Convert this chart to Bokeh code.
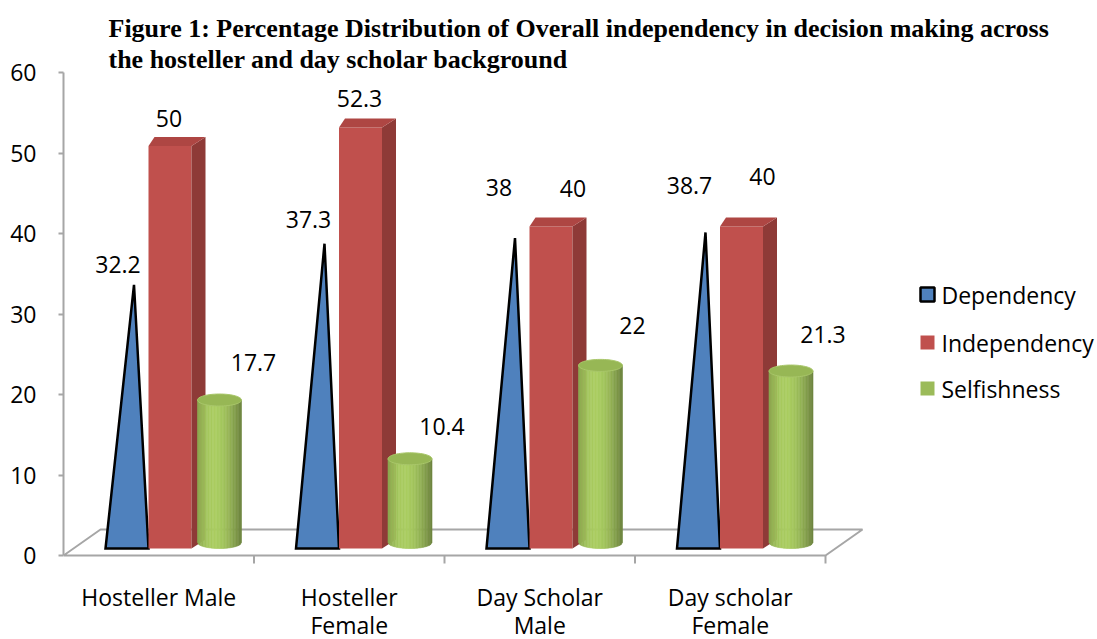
import numpy as np
from bokeh.plotting import figure
from bokeh.models import FixedTicker, Range1d
from bokeh.embed import file_html
from bokeh.resources import INLINE
from bokeh.core.properties import value

# ---------------- data ----------------
categories = ["Hosteller Male", "Hosteller\nFemale", "Day Scholar\nMale", "Day scholar\nFemale"]
series_names = ["Dependency", "Independency", "Selfishness"]
dependency = [32.2, 37.3, 38, 38.7]
independency = [50, 52.3, 40, 40]
selfishness = [17.7, 10.4, 22, 21.3]
y_ticks = [0, 10, 20, 30, 40, 50, 60]
title_lines = ["Figure 1: Percentage Distribution of Overall independency in decision making across",
               "the hosteller and day scholar background"]

# ---------------- styling / layout ----------------
BLUE, RED, GREEN = "#4F81BD", "#C0504D", "#9BBB59"
RED_SIDE, RED_TOP = "#8E3A37", "#AE4643"
GREEN_TOP = "#97B755"
GRID_GRAY = "#A6A6A6"
FONT = "Open Sans"
FS = "23px"

X0, SX = 63.0, 190.5      # page px of category 0, px per category
Y0, SY = 555.0, 8.05      # page px of value 0, px per value unit
PAGE_OFF = 0
W, H = 1097, 639
BORDER_L = int(X0 - PAGE_OFF)

def hx(px):  # horizontal px -> data units
    return px / SX

def hy(px):  # vertical px -> data units
    return px / SY

def px2x(px):
    return (px - X0) / SX

def py2y(py):
    return (Y0 - py) / SY

x_end = px2x(PAGE_OFF + W)
y_top = py2y(PAGE_OFF)
y_bot = py2y(PAGE_OFF + H)

p = figure(width=W, height=H, output_backend="svg", toolbar_location=None,
           x_range=Range1d(0, x_end), y_range=Range1d(y_bot, y_top),
           x_axis_location=None, min_border_left=BORDER_L, min_border_right=0,
           min_border_top=0, min_border_bottom=0)
p.outline_line_color = None
p.grid.visible = False
p.background_fill_color = "white"
p.border_fill_color = "white"

ax = p.yaxis[0]
ax.ticker = FixedTicker(ticks=y_ticks)
ax.bounds = (0, 60)
ax.axis_line_color = GRID_GRAY
ax.axis_line_width = 2
ax.major_tick_line_color = GRID_GRAY
ax.major_tick_line_width = 2
ax.major_tick_out = 5
ax.major_tick_in = 0
ax.minor_tick_line_color = None
ax.major_label_text_font = FONT
ax.major_label_text_font_size = FS
ax.major_label_text_color = "black"
ax.major_label_standoff = 22

n_cat = len(categories)

# floor (3D base plane)
depth_x, depth_y = hx(37), hy(26)
p.line([0, n_cat, n_cat + depth_x, depth_x, 0], [0, 0, depth_y, depth_y, 0],
       line_color=GRID_GRAY, line_width=2)
# category tick marks
p.segment(x0=list(range(1, n_cat + 1)), y0=[0] * n_cat,
          x1=list(range(1, n_cat + 1)), y1=[-hy(8)] * n_cat,
          line_color=GRID_GRAY, line_width=2)

# geometry of the 3D shapes (px within a category)
PYR_L, PYR_R = 42, 85
RED_L, RED_R = 85, 128
CYL_L, CYL_R = 134, 178
BASE = hy(7)
DXR, DXL, DYB = hx(14), hx(6), hy(9)
ELL = hy(6)

def shade(rgb, f):
    return "#%02x%02x%02x" % tuple(int(max(0, min(255, c * f))) for c in rgb)

for i in range(n_cat):
    # --- pyramid (Dependency) ---
    l, r = i + hx(PYR_L), i + hx(PYR_R)
    apex_x = (l + r) / 2 + DXR / 2
    apex_y = BASE + dependency[i] + DYB / 2
    p.patch([l, r, apex_x], [BASE, BASE, apex_y], fill_color=BLUE,
            line_color="black", line_width=2.5, line_join="miter")
    p.text(x=[apex_x + hx(-16)], y=[apex_y + hy([20, 24, 51, 47][i])],
           text=[f"{dependency[i]:g}"], text_font=value(FONT), text_font_size=FS,
           text_align="center", text_baseline="middle", text_color="black")

    # --- box (Independency) ---
    l, r = i + hx(RED_L), i + hx(RED_R)
    top = BASE + independency[i]
    p.patch([l, r, r, l], [BASE, BASE, top, top], fill_color=RED, line_color=None)
    p.patch([r, r + DXR, r + DXR, r], [BASE, BASE + DYB, top + DYB, top],
            fill_color=RED_SIDE, line_color=None)
    p.patch([l, r, r + DXR, l + DXL], [top, top, top + DYB, top + DYB],
            fill_color=RED_TOP, line_color=None)
    p.text(x=[(l + r) / 2 + hx([-1, -1, 22, 21][i])], y=[top + hy([28, 29, 38, 50][i])],
           text=[f"{independency[i]:g}"], text_font=value(FONT), text_font_size=FS,
           text_align="center", text_baseline="middle", text_color="black")

    # --- cylinder (Selfishness) ---
    cx = i + hx((CYL_L + CYL_R) / 2)
    rad = hx((CYL_R - CYL_L) / 2)
    yb = BASE + ELL
    yt = BASE + selfishness[i] + ELL
    nstrip = 30
    edges = np.linspace(cx - rad, cx + rad, nstrip + 1)
    xs_list, ys_list, cols = [], [], []
    for k in range(nstrip):
        xa, xb = edges[k], edges[k + 1]
        ua = np.clip((xa - cx) / rad, -1, 1)
        ub = np.clip((xb - cx) / rad, -1, 1)
        ya = yb - ELL * np.sqrt(1 - ua ** 2)
        ybb = yb - ELL * np.sqrt(1 - ub ** 2)
        xs_list.append([xa, xb, xb, xa])
        ys_list.append([ya, ybb, yt, yt])
        t = (ua + ub) / 2
        f = 0.80 + 0.30 * np.cos(np.pi / 2 * (t + 0.2))
        cols.append(shade((155, 187, 89), f))
    p.patches(xs_list, ys_list, fill_color=cols, line_color=cols, line_width=0.6)
    th = np.linspace(0, 2 * np.pi, 60)
    p.patch(cx + rad * np.cos(th), yt + ELL * np.sin(th), fill_color=GREEN_TOP,
            line_color="#A9C76A", line_width=1)
    p.text(x=[cx + hx([34, 32, 32, 32][i])], y=[BASE + selfishness[i] + hy([44, 38, 46, 43][i])],
           text=[f"{selfishness[i]:g}"], text_font=value(FONT), text_font_size=FS,
           text_align="center", text_baseline="middle", text_color="black")

# category labels
for i, cat in enumerate(categories):
    for j, line in enumerate(cat.split("\n")):
        p.text(x=[i + 0.5], y=[py2y(596 + 28 * j)], text=[line], text_font=value(FONT),
               text_font_size=FS, text_align="center", text_baseline="alphabetic",
               text_color="black")

# legend
leg_y = [294, 342, 388]
leg_colors = [BLUE, RED, GREEN]
for k, name in enumerate(series_names):
    p.scatter(x=[px2x(927)], y=[py2y(leg_y[k])], marker="square", size=14,
              fill_color=leg_colors[k], line_color="black" if k == 0 else None,
              line_width=2.5)
    p.text(x=[px2x(941)], y=[py2y(leg_y[k])], text=[name], text_font=value(FONT),
           text_font_size=FS, text_align="left", text_baseline="middle", text_color="black")

# title
for j, line in enumerate(title_lines):
    p.text(x=[px2x(108)], y=[py2y(28 + 31 * j)], text=[line],
           text_font=value("Liberation Serif"), text_font_style="bold",
           text_font_size="26px", text_align="left", text_baseline="alphabetic",
           text_color="black")

open("out.html", "w").write(file_html(p, INLINE))
